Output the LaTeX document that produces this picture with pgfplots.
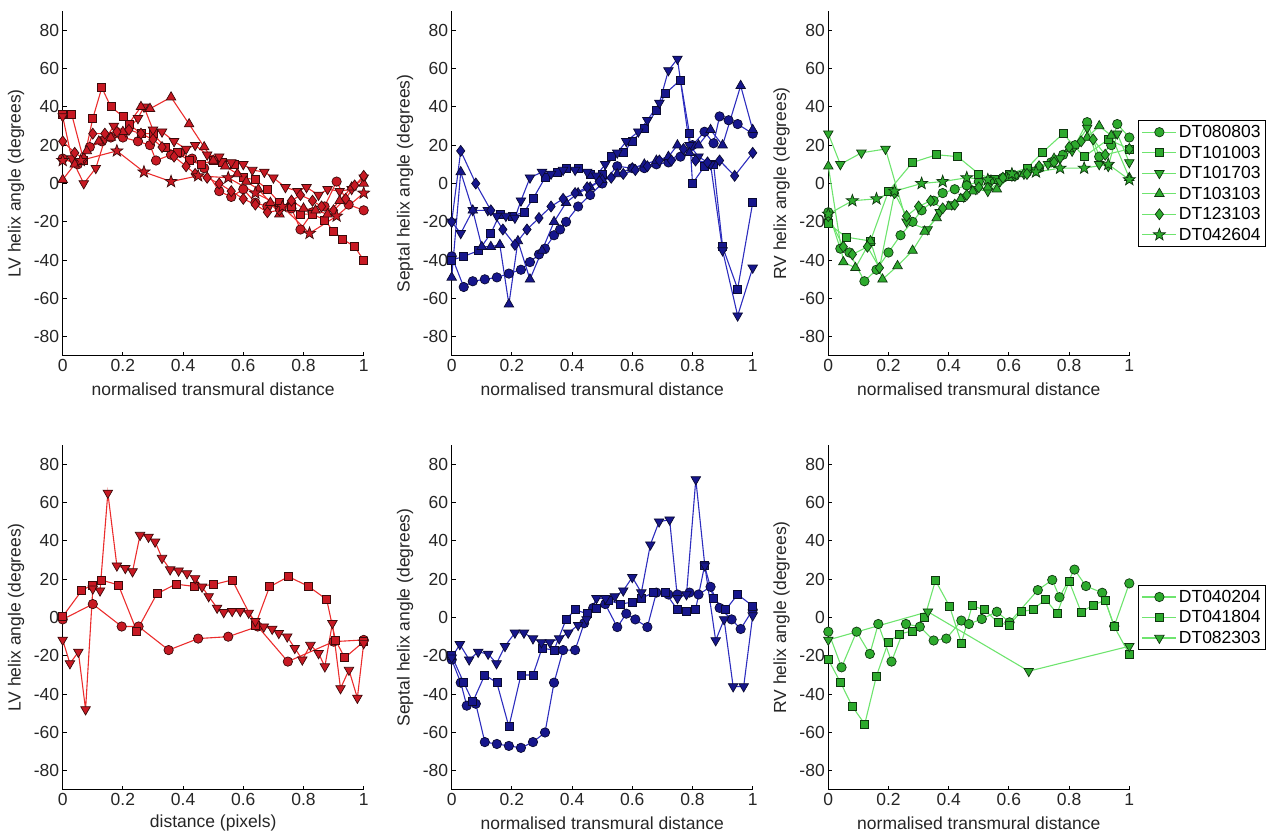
\documentclass[border=0pt]{standalone}
\usepackage{pgfplots}
\pgfplotsset{compat=1.18}
\usepackage{fontspec}
\setmainfont{Liberation Sans}
\usetikzlibrary{plotmarks}
\newcommand{\fs}{\fontsize{17.5}{20}\selectfont}
\definecolor{lvline}{RGB}{235,45,45}
\definecolor{lvfill}{RGB}{200,25,35}
\definecolor{lvedge}{RGB}{60,10,10}
\definecolor{spline}{RGB}{45,45,190}
\definecolor{spfill}{RGB}{22,22,140}
\definecolor{spedge}{RGB}{10,10,50}
\definecolor{rvline}{RGB}{110,228,110}
\definecolor{rvfill}{RGB}{45,170,45}
\definecolor{rvedge}{RGB}{15,55,15}
\pgfdeclareplotmark{fstar}{%
  \pgfpathmoveto{\pgfpointpolar{90}{1.15\pgfplotmarksize}}%
  \pgfpathlineto{\pgfpointpolar{126}{0.47\pgfplotmarksize}}%
  \pgfpathlineto{\pgfpointpolar{162}{1.15\pgfplotmarksize}}%
  \pgfpathlineto{\pgfpointpolar{198}{0.47\pgfplotmarksize}}%
  \pgfpathlineto{\pgfpointpolar{234}{1.15\pgfplotmarksize}}%
  \pgfpathlineto{\pgfpointpolar{270}{0.47\pgfplotmarksize}}%
  \pgfpathlineto{\pgfpointpolar{306}{1.15\pgfplotmarksize}}%
  \pgfpathlineto{\pgfpointpolar{342}{0.47\pgfplotmarksize}}%
  \pgfpathlineto{\pgfpointpolar{18}{1.15\pgfplotmarksize}}%
  \pgfpathlineto{\pgfpointpolar{54}{0.47\pgfplotmarksize}}%
  \pgfpathclose\pgfusepathqfillstroke}
\pgfplotsset{
  myaxis/.style={
    scale only axis, width=301pt, height=345pt,
    xmin=0, xmax=1, ymin=-90, ymax=90,
    axis x line*=bottom, axis y line*=left,
    xtick={0,0.2,0.4,0.6,0.8,1}, ytick={-80,-60,-40,-20,0,20,40,60,80},
    xticklabels={0,0.2,0.4,0.6,0.8,1},
    major tick length=4pt, tick align=inside,
    tick style={black, line width=0.9pt},
    axis line style={black, line width=1pt},
    tick label style={font=\fs, black!85},
    label style={font=\fs, black!85},
    /pgf/number format/assume math mode=true,
    clip=false,
    ylabel style={at={(axis description cs:-0.155,0.5)}, anchor=center},
    xlabel style={at={(axis description cs:0.5,-0.095)}, anchor=center},
    legend image code/.code={\draw[mark repeat=2,mark phase=2,##1] plot coordinates {(0pt,0pt) (17pt,0pt) (34pt,0pt)};},
    legend style={at={(axis description cs:1.03,0.5)}, anchor=west, draw=black, line width=1pt, fill=white, font=\fs, row sep=2.8pt, inner sep=3pt},
    legend cell align=left,
  },
  ser/.style={color=#1line, line width=1.1pt, mark options={solid, fill=#1fill, draw=#1edge, line width=0.7pt}},
  mC/.style={mark=*, mark size=4.7pt},
  mS/.style={mark=square*, mark size=4pt},
  mV/.style={mark=triangle*, mark size=5.5pt, every mark/.append style={rotate=180}},
  mA/.style={mark=triangle*, mark size=5.5pt},
  mD/.style={mark=diamond*, mark size=5.5pt},
  mP/.style={mark=fstar, mark size=5.5pt},
}
\begin{document}
\begin{tikzpicture}
\path[use as bounding box] (0pt,0pt) rectangle (1270pt,833pt);
% ---------------- top left: LV
\begin{axis}[myaxis, at={(62.7pt,477pt)}, anchor=south west,
  xlabel={normalised transmural distance}, ylabel={LV helix angle (degrees)}]
\addplot[ser=lv, mC] coordinates {(0,13)(0.05,10)(0.09,19)(0.13,22)(0.16,24)(0.2,24)(0.25,22)(0.29,20)(0.31,12)(0.36,15)(0.39,16)(0.43,13)(0.47,8)(0.52,-4)(0.56,-7)(0.6,-3)(0.64,-10)(0.68,-12)(0.72,-12)(0.76,-13)(0.79,-24)(0.83,-15)(0.87,-12)(0.91,1)(0.95,-11)(1,-14)};
\addplot[ser=lv, mS] coordinates {(0,36)(0.03,36)(0.07,12)(0.1,34)(0.13,50)(0.16,40)(0.2,35)(0.22,31)(0.26,26)(0.3,26)(0.34,19)(0.38,16)(0.42,12)(0.46,10)(0.5,12)(0.53,11)(0.57,10)(0.6,3)(0.64,2)(0.68,-3)(0.72,-10)(0.76,-12)(0.79,-16)(0.83,-16)(0.87,-19)(0.9,-25)(0.93,-29)(0.97,-33)(1,-40)};
\addplot[ser=lv, mV] coordinates {(0,35)(0.03,13)(0.07,0)(0.11,8)(0.14,23)(0.17,30)(0.21,27)(0.25,34)(0.27,40)(0.3,28)(0.33,27)(0.37,22)(0.41,18)(0.44,20)(0.48,15)(0.52,14)(0.56,11)(0.6,10)(0.63,7)(0.67,6)(0.7,3)(0.74,-2)(0.78,-4)(0.81,-2)(0.85,-6)(0.88,-3)(0.92,-4)(0.96,-3)(1,3)};
\addplot[ser=lv, mA] coordinates {(0,2)(0.04,10)(0.08,17)(0.12,22)(0.16,24)(0.2,27)(0.26,40)(0.29,39)(0.36,45)(0.42,31)(0.47,19)(0.5,12)(0.54,9)(0.58,5)(0.61,1)(0.65,-3)(0.69,-10)(0.72,-16)(0.76,-9)(0.8,-13)(0.84,-14)(0.88,-16)(0.92,-9)(0.96,-2)(1,0)};
\addplot[ser=lv, mD] coordinates {(0,22)(0.04,16)(0.07,13)(0.1,26)(0.14,26)(0.18,27)(0.22,28)(0.26,26)(0.3,23)(0.33,19)(0.37,14)(0.41,9)(0.44,5)(0.48,3)(0.52,0)(0.56,-4)(0.6,-8)(0.64,-11)(0.68,-15)(0.72,-14)(0.76,-9)(0.79,-6)(0.83,-9)(0.86,-12)(0.9,-14)(0.94,-8)(0.97,-1)(1,4)};
\addplot[ser=lv, mP] coordinates {(0,12)(0.06,12)(0.18,17)(0.27,6)(0.36,1)(0.45,4)(0.55,3)(0.64,-5)(0.73,-12)(0.82,-26)(0.91,-17)(1,-5)};
\end{axis}
% ---------------- top middle: septal
\begin{axis}[myaxis, at={(451.7pt,477pt)}, anchor=south west,
  xlabel={normalised transmural distance}, ylabel={Septal helix angle (degrees)}]
\addplot[ser=sp, mC] coordinates {(0,-38)(0.04,-54)(0.07,-51)(0.11,-50)(0.15,-49)(0.19,-47)(0.23,-45)(0.26,-41)(0.29,-37)(0.31,-34)(0.34,-27)(0.36,-24)(0.38,-20)(0.42,-12)(0.46,-6)(0.5,0)(0.55,9)(0.6,8)(0.64,8)(0.68,10)(0.72,11)(0.76,14)(0.8,20)(0.84,27)(0.87,21)(0.89,35)(0.92,33)(0.95,31)(1,26)};
\addplot[ser=sp, mS] coordinates {(0,-40)(0.04,-38)(0.09,-35)(0.13,-26)(0.16,-16)(0.2,-17)(0.24,-15)(0.27,-8)(0.31,3)(0.35,6)(0.38,8)(0.42,8)(0.46,5)(0.5,5)(0.53,14)(0.57,16)(0.6,22)(0.64,29)(0.68,38)(0.71,47)(0.76,54)(0.79,26)(0.8,0)(0.84,9)(0.87,10)(0.9,-33)(0.95,-55)(1,-10)};
\addplot[ser=sp, mV] coordinates {(0,-20)(0.03,-26)(0.07,-14)(0.12,-14)(0.15,-17)(0.18,-17)(0.21,-18)(0.23,-9)(0.26,3)(0.3,6)(0.33,5)(0.37,7)(0.41,7)(0.45,6)(0.48,4)(0.51,10)(0.55,16)(0.58,22)(0.62,27)(0.65,33)(0.69,42)(0.72,59)(0.75,65)(0.79,20)(0.82,14)(0.86,10)(0.9,-35)(0.95,-69)(1,-44)};
\addplot[ser=sp, mA] coordinates {(0,-49)(0.03,6)(0.07,-14)(0.1,-33)(0.13,-33)(0.16,-32)(0.19,-63)(0.22,-30)(0.26,-50)(0.3,-35)(0.34,-20)(0.38,-10)(0.42,-5)(0.46,-2)(0.5,2)(0.55,5)(0.6,8)(0.64,10)(0.68,12)(0.72,14)(0.75,20)(0.79,16)(0.82,20)(0.86,28)(0.9,20)(0.96,51)(1,28)};
\addplot[ser=sp, mD] coordinates {(0,-20)(0.03,17)(0.08,0)(0.13,-14)(0.17,-24)(0.21,-32)(0.25,-24)(0.29,-18)(0.33,-12)(0.37,-8)(0.41,-5)(0.45,-2)(0.49,1)(0.53,3)(0.57,5)(0.61,7)(0.65,9)(0.69,12)(0.73,12)(0.77,18)(0.81,12)(0.85,11)(0.89,12)(0.94,4)(1,16)};
\end{axis}
% ---------------- top right: RV
\begin{axis}[myaxis, at={(828.3pt,477pt)}, anchor=south west,
  xlabel={normalised transmural distance}, ylabel={RV helix angle (degrees)}]
\addplot[ser=rv, mC] coordinates {(0,-15)(0.04,-34)(0.07,-36)(0.12,-51)(0.16,-45)(0.2,-36)(0.24,-27)(0.28,-20)(0.31,-14)(0.35,-9)(0.38,-5)(0.42,-3)(0.46,-1)(0.5,1)(0.54,2)(0.58,3)(0.62,4)(0.66,6)(0.7,8)(0.74,11)(0.78,15)(0.82,20)(0.86,32)(0.9,14)(0.94,20)(0.96,31)(1,24)};
\addplot[ser=rv, mS] coordinates {(0,-21)(0.06,-28)(0.14,-30)(0.2,-4)(0.28,11)(0.36,15)(0.43,14)(0.5,5)(0.55,2)(0.6,5)(0.66,8)(0.71,16)(0.78,26)(0.85,14)(0.93,23)(1,18)};
\addplot[ser=rv, mV] coordinates {(0,26)(0.04,10)(0.11,16)(0.19,18)(0.26,-20)(0.33,-24)(0.37,-15)(0.41,-11)(0.45,-7)(0.49,-3)(0.53,-4)(0.57,1)(0.61,4)(0.65,5)(0.69,7)(0.73,10)(0.77,13)(0.81,17)(0.86,29)(0.9,10)(0.93,9)(0.96,26)(1,11)};
\addplot[ser=rv, mA] coordinates {(0,9)(0.05,-41)(0.09,-44)(0.14,-30)(0.18,-50)(0.23,-43)(0.28,-35)(0.32,-25)(0.36,-18)(0.4,-12)(0.44,-8)(0.48,-4)(0.53,-2)(0.56,-3)(0.6,3)(0.65,5)(0.7,8)(0.75,13)(0.8,18)(0.86,24)(0.9,30)(0.94,25)(1,3)};
\addplot[ser=rv, mD] coordinates {(0,-17)(0.05,-33)(0.08,-37)(0.13,-33)(0.17,-44)(0.22,-5)(0.26,-17)(0.3,-12)(0.34,-9)(0.38,-13)(0.42,-11)(0.46,-6)(0.5,-2)(0.54,1)(0.58,3)(0.62,4)(0.66,5)(0.7,9)(0.75,11)(0.8,19)(0.84,22)(0.88,23)(0.92,15)(1,18)};
\addplot[ser=rv, mP] coordinates {(0,-16)(0.08,-9)(0.16,-8)(0.22,-4)(0.31,0)(0.38,1)(0.46,3)(0.53,2)(0.61,5)(0.69,6)(0.77,8)(0.85,8)(0.93,10)(1,2)};
\legend{DT080803,DT101003,DT101703,DT103103,DT123103,DT042604}
\end{axis}
% ---------------- bottom left: LV
\begin{axis}[myaxis, at={(62.7pt,43pt)}, anchor=south west,
  xlabel={distance (pixels)}, ylabel={LV helix angle (degrees)}]
\addplot[ser=lv, mC] coordinates {(0,-1)(0.1,7)(0.196,-4.7)(0.252,-4.7)(0.352,-17)(0.45,-11)(0.55,-10)(0.648,-4.7)(0.748,-23)(0.9,-12.6)(1,-11.7)};
\addplot[ser=lv, mS] coordinates {(0,0.5)(0.063,14)(0.097,17)(0.127,19.6)(0.185,17)(0.246,-7)(0.313,12.4)(0.376,17.4)(0.438,16.2)(0.502,17.2)(0.563,19.6)(0.64,-4)(0.687,16)(0.75,21.3)(0.815,16.4)(0.877,9.4)(0.906,-11.7)(0.937,-21)(1,-12.6)};
\addplot[ser=lv, mV] coordinates {(0,-11.7)(0.024,-24)(0.052,-18)(0.076,-48)(0.1,15)(0.124,14)(0.15,65)(0.18,27)(0.208,25.7)(0.232,24)(0.257,43)(0.285,42)(0.307,39.5)(0.33,31)(0.357,25)(0.385,24.4)(0.413,23)(0.44,20.4)(0.463,16)(0.485,11)(0.513,5)(0.535,2.7)(0.563,3.3)(0.59,3.3)(0.618,2.4)(0.64,-2)(0.668,-4.8)(0.696,-6)(0.718,-8.2)(0.746,-10)(0.771,-16)(0.796,-22)(0.823,-14.4)(0.85,-18.7)(0.871,-25.6)(0.896,-3)(0.923,-37)(0.951,-27.4)(0.979,-42)(1,-13.5)};
\end{axis}
% ---------------- bottom middle: septal
\begin{axis}[myaxis, at={(451.7pt,43pt)}, anchor=south west,
  xlabel={normalised transmural distance}, ylabel={Septal helix angle (degrees)}]
\addplot[ser=sp, mC] coordinates {(0,-22)(0.03,-34)(0.05,-46)(0.08,-45)(0.11,-65)(0.15,-66)(0.19,-67)(0.23,-68)(0.27,-65)(0.31,-60)(0.34,-34)(0.37,-17)(0.41,-17)(0.44,-3)(0.47,5)(0.51,7)(0.55,-5)(0.58,2)(0.61,-1)(0.65,-5)(0.68,13)(0.72,12)(0.75,12)(0.79,13)(0.82,12)(0.86,16)(0.89,5)(0.93,-1)(0.96,-6)(1,4)};
\addplot[ser=sp, mS] coordinates {(0,-20)(0.04,-34)(0.07,-44)(0.11,-30)(0.15,-34)(0.19,-57)(0.23,-30)(0.27,-30)(0.3,-16)(0.34,-17)(0.38,-1)(0.41,4)(0.45,2)(0.48,5)(0.52,9)(0.56,7)(0.6,8)(0.63,10)(0.67,13)(0.71,13)(0.75,4)(0.78,3)(0.81,4)(0.84,27)(0.87,10)(0.91,4)(0.95,12)(1,6)};
\addplot[ser=sp, mV] coordinates {(0,-21)(0.027,-14)(0.058,-22)(0.088,-18)(0.121,-19)(0.149,-24)(0.177,-15)(0.21,-8)(0.24,-8)(0.27,-11)(0.298,-13)(0.326,-13)(0.357,-11)(0.387,-8)(0.42,-4)(0.448,-1)(0.481,10)(0.511,10)(0.542,11)(0.57,14)(0.6,21)(0.63,13)(0.66,38)(0.689,50)(0.724,51)(0.75,10)(0.78,12)(0.811,72)(0.841,27)(0.877,-12)(0.905,-1)(0.935,-36)(0.97,-36)(1,1)};
\end{axis}
% ---------------- bottom right: RV
\begin{axis}[myaxis, at={(828.3pt,43pt)}, anchor=south west,
  xlabel={normalised transmural distance}, ylabel={RV helix angle (degrees)}]
\addplot[ser=rv, mC] coordinates {(0,-7.4)(0.044,-26)(0.094,-7.4)(0.138,-19)(0.166,-3.4)(0.21,-23)(0.258,-3.4)(0.304,-4.8)(0.35,-12)(0.392,-11)(0.442,-1.6)(0.467,-3.4)(0.51,-0.8)(0.56,3)(0.602,-2.5)(0.696,14.3)(0.744,19.6)(0.768,10.6)(0.818,25)(0.856,16.4)(0.91,12.9)(0.95,-4.5)(1,17.8)};
\addplot[ser=rv, mS] coordinates {(0,-22)(0.041,-34)(0.08,-46.5)(0.121,-55.6)(0.16,-30.5)(0.199,-13)(0.237,-8.6)(0.28,-7)(0.32,0)(0.356,19.3)(0.403,5.8)(0.442,-13.3)(0.478,6.1)(0.519,4)(0.564,-2.7)(0.6,-4)(0.641,3)(0.68,4.2)(0.722,9.4)(0.76,2.1)(0.8,18.9)(0.84,2.8)(0.88,6.5)(0.92,9)(0.95,-4.8)(1,-19.2)};
\addplot[ser=rv, mV] coordinates {(0,-11.7)(0.331,3)(0.666,-28)(1,-15)};
\legend{DT040204,DT041804,DT082303}
\end{axis}
\end{tikzpicture}
\end{document}
